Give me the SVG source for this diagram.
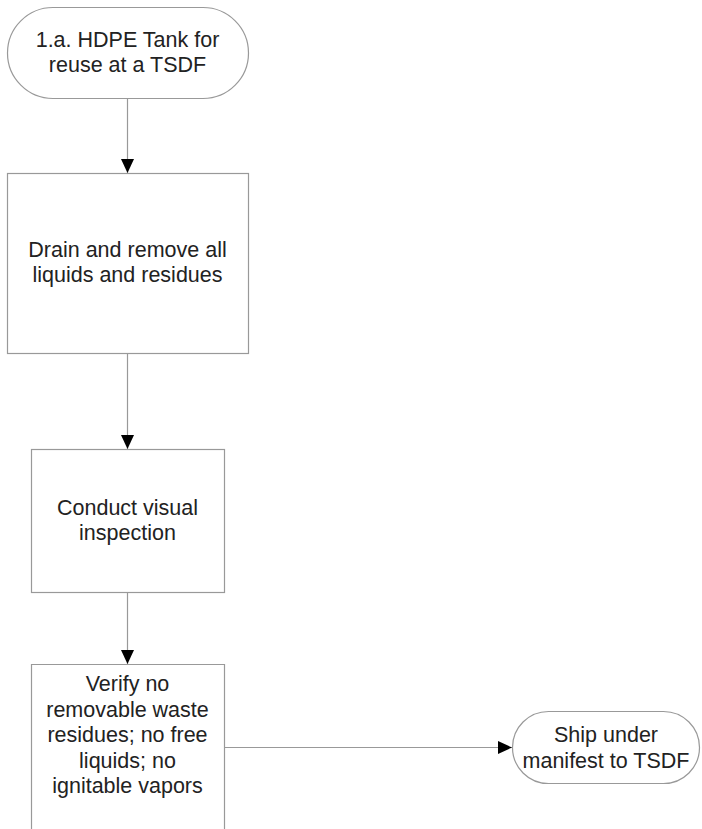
<svg xmlns="http://www.w3.org/2000/svg" width="702" height="829" viewBox="0 0 702 829">
<style>
.shape{fill:#fff;stroke:#999;stroke-width:1.2}
.conn{fill:none;stroke:#999;stroke-width:1.2}
text{font-family:"Liberation Sans",Arial,sans-serif;font-size:21.5px;fill:#222;text-anchor:middle}
</style>
<defs>
<marker id="arrow" markerUnits="userSpaceOnUse" markerWidth="14" markerHeight="13" refX="14" refY="6.5" orient="auto" viewBox="0 0 14 13">
<path d="M0,0 L14,6.5 L0,13 z" fill="#000"/>
</marker>
</defs>
<rect width="702" height="829" fill="#fff"/>
<g id="connectors">
<line class="conn" x1="127.5" y1="99" x2="127.5" y2="173" marker-end="url(#arrow)"/>
<line class="conn" x1="127.5" y1="354" x2="127.5" y2="449" marker-end="url(#arrow)"/>
<line class="conn" x1="127.5" y1="593" x2="127.5" y2="664" marker-end="url(#arrow)"/>
<line class="conn" x1="224.5" y1="747.5" x2="512" y2="747.5" marker-end="url(#arrow)"/>
</g>
<g id="start">
<rect class="shape" x="7.5" y="7.5" width="241" height="91" rx="45.5" ry="45.5"/>
<text x="127.5" y="46.5">1.a. HDPE Tank for</text>
<text x="127.5" y="71.5">reuse at a TSDF</text>
</g>
<g id="drain">
<rect class="shape" x="7.5" y="173.5" width="241" height="180"/>
<text x="127.5" y="257">Drain and remove all</text>
<text x="127.5" y="282">liquids and residues</text>
</g>
<g id="inspect">
<rect class="shape" x="31.5" y="449.5" width="193" height="143"/>
<text x="127.5" y="515">Conduct visual</text>
<text x="127.5" y="540">inspection</text>
</g>
<g id="verify">
<path class="shape" d="M31.5,830 L31.5,664.5 L224.5,664.5 L224.5,830"/>
<text x="127.5" y="691">Verify no</text>
<text x="127.5" y="716.5">removable waste</text>
<text x="127.5" y="742">residues; no free</text>
<text x="127.5" y="767.5">liquids; no</text>
<text x="127.5" y="793">ignitable vapors</text>
</g>
<g id="ship">
<rect class="shape" x="512.5" y="711.5" width="187" height="72" rx="36" ry="36"/>
<text x="606" y="742">Ship under</text>
<text x="606" y="767.5">manifest to TSDF</text>
</g>
</svg>
